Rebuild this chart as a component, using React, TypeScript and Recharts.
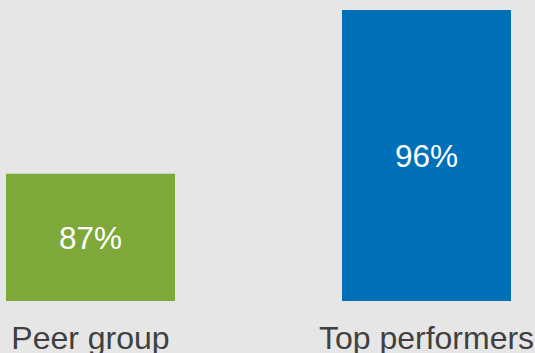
import React from 'react';
import { BarChart, Bar, XAxis, YAxis, Cell, LabelList } from 'recharts';

const categories = ['Peer group', 'Top performers'];
const values = [87, 96];
const colors = ['#7fa83a', '#0070b9'];

const data = categories.map((name, i) => ({ name, value: values[i] }));

const Tick = (props: any) => {
  const { x, y, payload } = props;
  return (
    <text x={x} y={y + 40} textAnchor="middle" fill="#404040" fontSize={32} fontFamily="Liberation Sans, Arial, sans-serif">
      {payload.value}
    </text>
  );
};

export default function App() {
  return (
    <div style={{ position: 'absolute', left: 0, top: 0, width: 535, height: 353, background: '#e6e6e6', overflow: 'hidden' }}>
      <BarChart
        width={535}
        height={353}
        data={data}
        margin={{ top: 10, left: -77.5, right: -59.5, bottom: 0 }}
        barCategoryGap={83.5}
      >
        <XAxis dataKey="name" axisLine={false} tickLine={false} height={52} tick={<Tick />} interval={0} />
        <YAxis hide domain={[80, 96]} allowDataOverflow />
        <Bar dataKey="value" isAnimationActive={false}>
          {data.map((d, i) => (
            <Cell key={d.name} fill={colors[i]} />
          ))}
          <LabelList
            dataKey="value"
            position="center"
            formatter={(v: any) => `${v}%`}
            fill="#ffffff"
            fontSize={31.5}
            fontFamily="Liberation Sans, Arial, sans-serif"
          />
        </Bar>
      </BarChart>
    </div>
  );
}
